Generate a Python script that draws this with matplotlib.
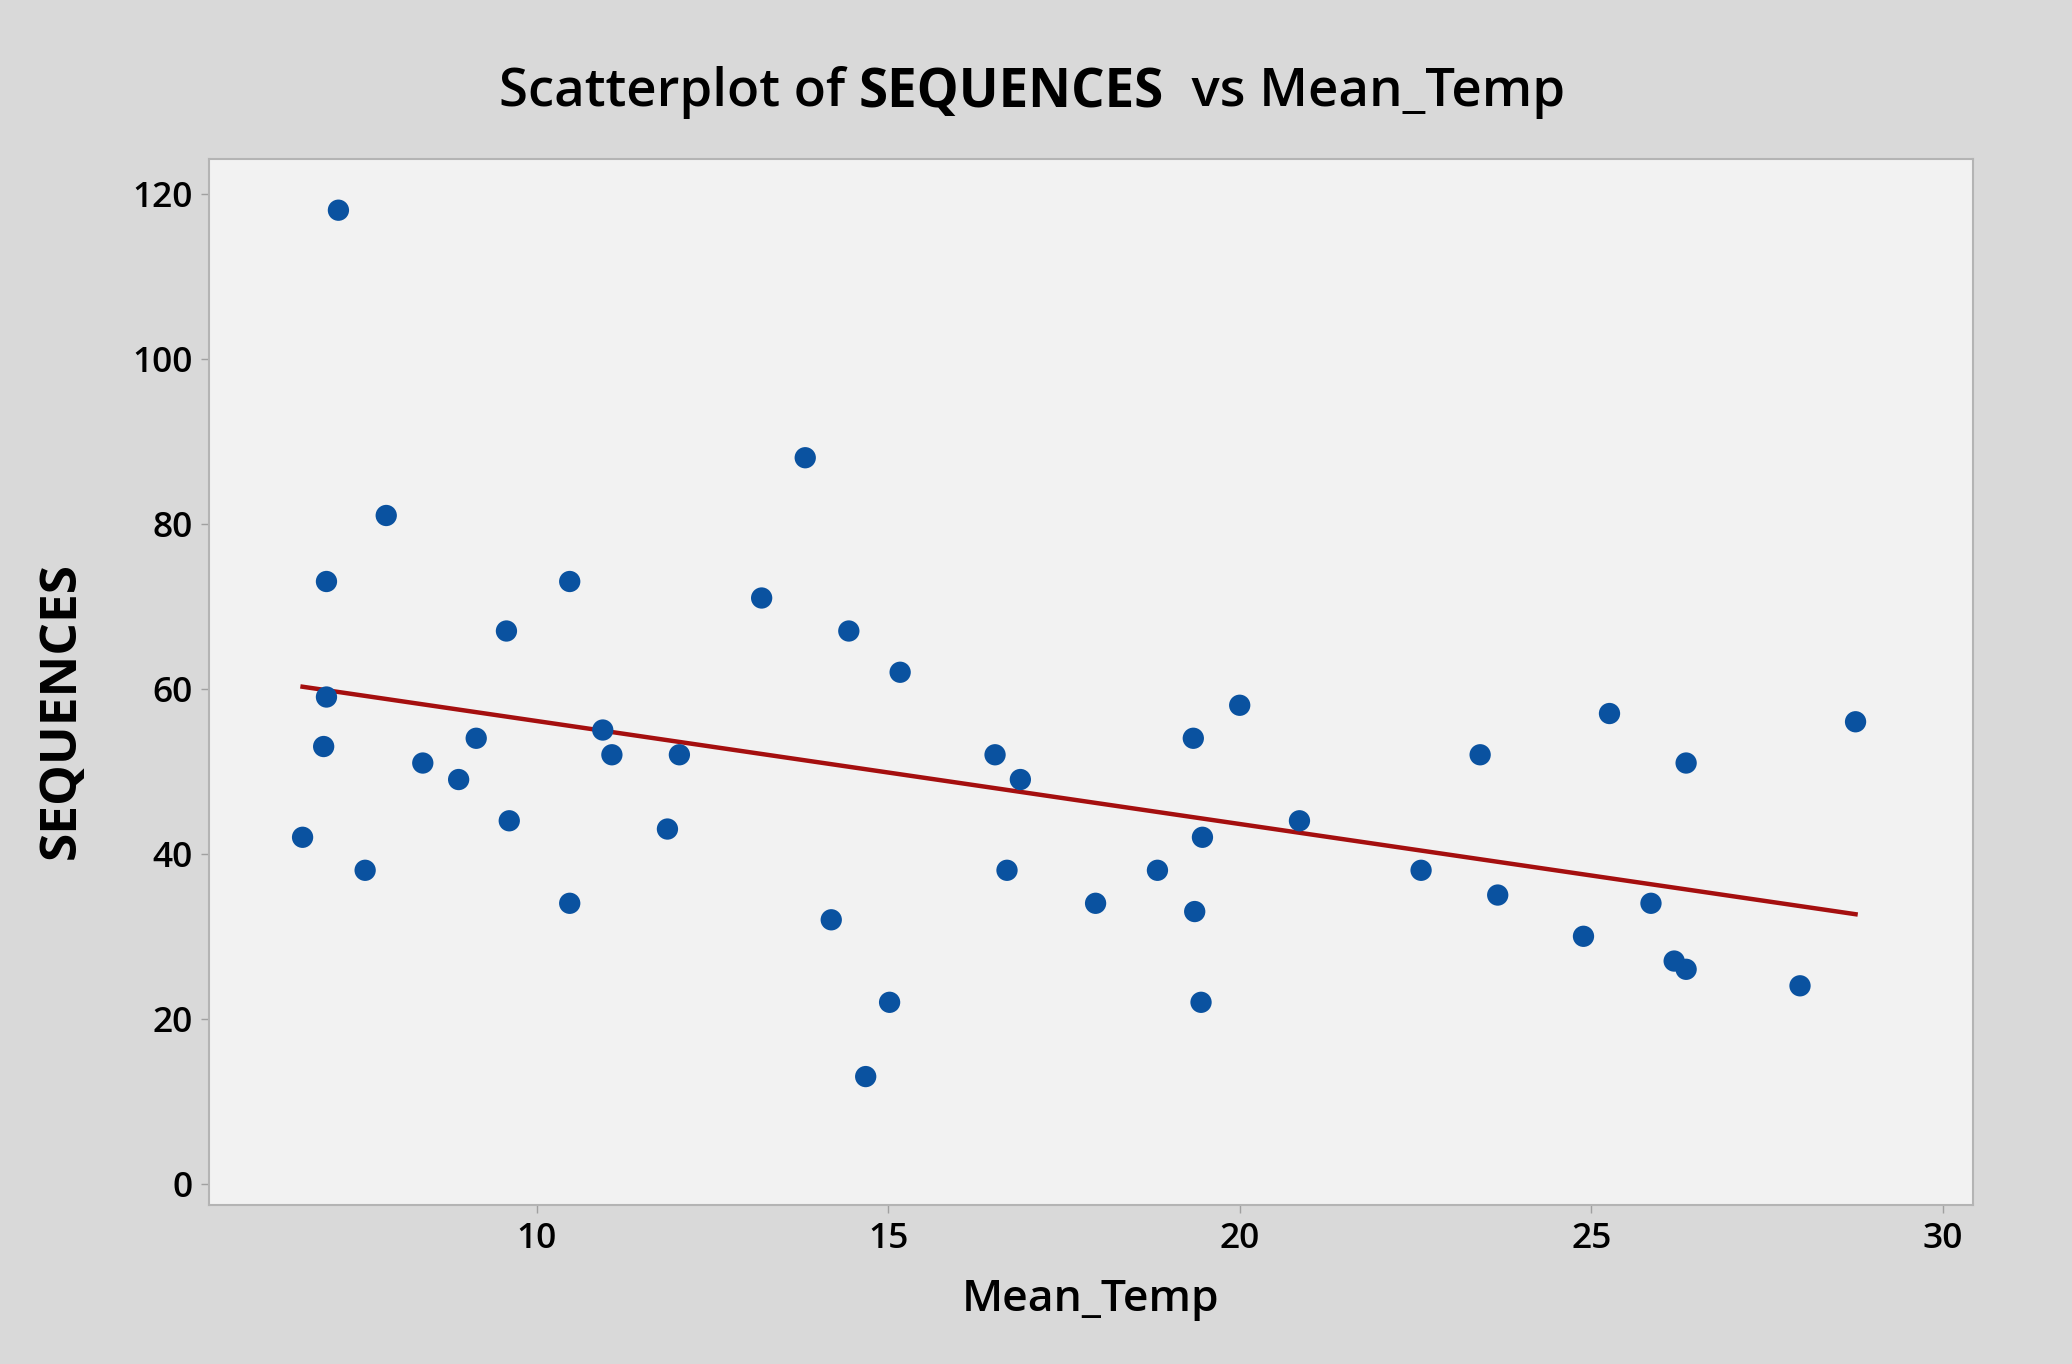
import numpy as np
import matplotlib.pyplot as plt

mean_temp = [6.67, 7.18, 7.01, 7.01, 6.97, 7.56, 7.86, 8.38, 8.89, 9.14,
             9.57, 9.61, 10.47, 10.47, 10.94, 11.07, 11.86, 12.03, 13.20, 13.82,
             14.19, 14.44, 14.68, 15.02, 15.17, 16.52, 16.69, 16.88, 17.95, 18.83,
             19.34, 19.36, 19.47, 19.45, 20.00, 20.85, 22.58, 23.42, 23.67, 24.89,
             25.26, 25.85, 26.18, 26.35, 26.35, 27.97, 28.76]
sequences = [42, 118, 73, 59, 53, 38, 81, 51, 49, 54,
             67, 44, 73, 34, 55, 52, 43, 52, 71, 88,
             32, 67, 13, 22, 62, 52, 38, 49, 34, 38,
             54, 33, 42, 22, 58, 44, 38, 52, 35, 30,
             57, 34, 27, 51, 26, 24, 56]

x_ticks = [10, 15, 20, 25, 30]
y_ticks = [0, 20, 40, 60, 80, 100, 120]

FONT = "Open Sans"
BG = "#d9d9d9"
PANEL = "#f2f2f2"

fig = plt.figure(figsize=(20.72, 13.64), dpi=100, facecolor=BG)
ax = fig.add_axes([0.1009, 0.1166, 0.8513, 0.7668], facecolor=PANEL)

x = np.array(mean_temp)
y = np.array(sequences)
ax.scatter(x, y, s=235, color="#0a52a0", edgecolors="none", zorder=3)

# least squares fit line, drawn over the range of the data
slope, intercept = np.polyfit(x, y, 1)
xs = np.array([x.min(), x.max()])
ax.plot(xs, intercept + slope * xs, color="#a50f0f", lw=3.2, zorder=2)

ax.set_xlim(5.34, 30.43)
ax.set_ylim(-2.56, 124.2)
ax.set_xticks(x_ticks)
ax.set_yticks(y_ticks)
ax.tick_params(direction="out", length=6, width=1, color="#a0a0a0",
               labelsize=25.5, pad=6)
for lab in ax.get_xticklabels() + ax.get_yticklabels():
    lab.set_fontfamily(FONT)
    lab.set_fontweight("semibold")
for sp in ax.spines.values():
    sp.set_color("#b4b4b4")
    sp.set_linewidth(1.5)

fig.text(0.5265, 0.047, "Mean_Temp", ha="center", va="center",
         fontsize=32, fontweight="semibold", family=FONT)
fig.text(0.030, 0.479, "SEQUENCES", ha="center", va="center",
         rotation=90, fontsize=37, fontweight="bold", family=FONT)

# title with the bold variable name in the middle
parts = [("Scatterplot of ", "semibold"), ("SEQUENCES", "bold"),
         ("  vs Mean_Temp", "semibold")]
r = fig.canvas.get_renderer()
texts = []
for s, w in parts:
    t = fig.text(0, 0.932, s, fontsize=38, fontweight=w, family=FONT,
                 va="center", ha="left")
    texts.append(t)
widths = [t.get_window_extent(r).width for t in texts]
total = sum(widths)
x0 = 0.498 * fig.bbox.width - total / 2
for t, w in zip(texts, widths):
    t.set_x(x0 / fig.bbox.width)
    x0 += w

fig.savefig("out.png", dpi=100, facecolor=BG)
